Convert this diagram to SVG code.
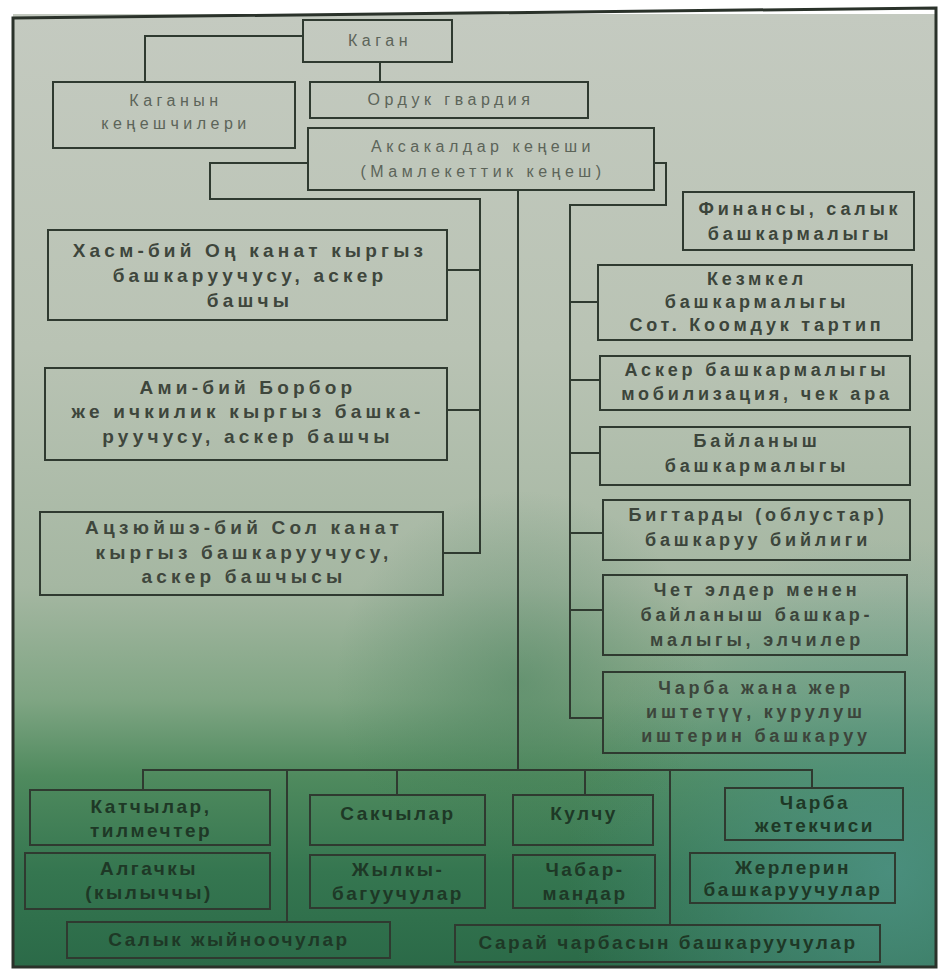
<svg xmlns="http://www.w3.org/2000/svg" width="948" height="970" viewBox="0 0 948 970">
<defs>
<linearGradient id="bg" x1="0" y1="0" x2="0" y2="1">
<stop offset="0" stop-color="#c4cac0"/>
<stop offset="0.35" stop-color="#b9c3b4"/>
<stop offset="0.6" stop-color="#a5b7a2"/>
<stop offset="0.72" stop-color="#7fa583"/>
<stop offset="0.8" stop-color="#4f8a5e"/>
<stop offset="0.9" stop-color="#357650"/>
<stop offset="1" stop-color="#2b6a48"/>
</linearGradient>
<radialGradient id="teal" cx="0.95" cy="0.9" r="0.35">
<stop offset="0" stop-color="#4f9488" stop-opacity="0.8"/>
<stop offset="1" stop-color="#4f9488" stop-opacity="0"/>
</radialGradient>
<radialGradient id="dark" cx="0.55" cy="0.7" r="0.2">
<stop offset="0" stop-color="#3f7a55" stop-opacity="0.45"/>
<stop offset="1" stop-color="#3f7a55" stop-opacity="0"/>
</radialGradient>
<style>
.box{fill:none;stroke:#2f3a30;stroke-width:2}
.ln{fill:none;stroke:#2f3a30;stroke-width:2}
text{font-family:"Liberation Sans","DejaVu Sans",sans-serif;text-anchor:middle}
.t{font-size:16px;fill:#5c6459;letter-spacing:4.5px}
.l{font-size:19px;font-weight:bold;fill:#3e463c;letter-spacing:4.2px}
.r{font-size:18px;font-weight:bold;fill:#3c453b;letter-spacing:3.8px}
.b{font-size:19px;font-weight:bold;fill:#1e3826;letter-spacing:2.5px}
</style>
</defs>
<rect x="0" y="0" width="948" height="970" fill="#ffffff"/>
<rect x="13" y="14" width="923" height="953" fill="url(#bg)"/>
<rect x="13" y="14" width="923" height="953" fill="url(#teal)"/>
<rect x="13" y="14" width="923" height="953" fill="url(#dark)"/>
<path d="M13 18 L936 8 L936 967 L13 967 Z" fill="none" stroke="#2a322a" stroke-width="3"/>

<g id="connectors">
<path class="ln" d="M303 36 H145 V82"/>
<path class="ln" d="M380 62 V82"/>
<path class="ln" d="M308 163 H210 V199 H480 V553 H443"/>
<path class="ln" d="M447 270 H480"/>
<path class="ln" d="M447 410 H480"/>
<path class="ln" d="M518 190 V770"/>
<path class="ln" d="M654 163 H666 V205 H570 V718 H603"/>
<path class="ln" d="M570 302 H598"/>
<path class="ln" d="M570 380 H600"/>
<path class="ln" d="M570 453 H600"/>
<path class="ln" d="M570 533 H603"/>
<path class="ln" d="M570 610 H603"/>
<path class="ln" d="M143 790 V770 H812 V788"/>
<path class="ln" d="M287 770 V921"/>
<path class="ln" d="M397 770 V795"/>
<path class="ln" d="M585 770 V795"/>
<path class="ln" d="M670 770 V925"/>
</g>

<g id="kagan"><rect class="box" x="303" y="20" width="149" height="42"/><text class="t" x="380" y="46">Каган</text></g>
<g id="kenesh"><rect class="box" x="53" y="82" width="242" height="66"/><text class="t" x="176" y="106">Каганын</text><text class="t" x="176" y="129">кеңешчилери</text></g>
<g id="guard"><rect class="box" x="310" y="82" width="278" height="36"/><text class="t" x="451" y="105">Ордук гвардия</text></g>
<g id="aksakal"><rect class="box" x="308" y="128" width="346" height="62"/><text class="t" x="483" y="152">Аксакалдар кеңеши</text><text class="t" x="483" y="177">(Мамлекеттик кеңеш)</text></g>

<g id="left1"><rect class="box" x="48" y="230" width="399" height="90"/><text class="l" x="250" y="257">Хасм-бий Оң канат кыргыз</text><text class="l" x="250" y="282">башкаруучусу, аскер</text><text class="l" x="250" y="307">башчы</text></g>
<g id="left2"><rect class="box" x="45" y="368" width="402" height="92"/><text class="l" x="248" y="394">Ами-бий Борбор</text><text class="l" x="248" y="418">же ичкилик кыргыз башка-</text><text class="l" x="248" y="443">руучусу, аскер башчы</text></g>
<g id="left3"><rect class="box" x="40" y="512" width="403" height="83"/><text class="l" x="244" y="534">Ацзюйшэ-бий Сол канат</text><text class="l" x="244" y="559">кыргыз башкаруучусу,</text><text class="l" x="244" y="583">аскер башчысы</text></g>

<g id="right1"><rect class="box" x="683" y="192" width="231" height="58"/><text class="r" x="800" y="215">Финансы, салык</text><text class="r" x="800" y="240">башкармалыгы</text></g>
<g id="right2"><rect class="box" x="598" y="265" width="314" height="75"/><text class="r" x="757" y="285">Кезмкел</text><text class="r" x="757" y="308">башкармалыгы</text><text class="r" x="757" y="331">Сот. Коомдук тартип</text></g>
<g id="right3"><rect class="box" x="600" y="356" width="310" height="54"/><text class="r" x="757" y="376">Аскер башкармалыгы</text><text class="r" x="757" y="400">мобилизация, чек ара</text></g>
<g id="right4"><rect class="box" x="600" y="427" width="310" height="58"/><text class="r" x="757" y="447">Байланыш</text><text class="r" x="757" y="472">башкармалыгы</text></g>
<g id="right5"><rect class="box" x="603" y="500" width="307" height="60"/><text class="r" x="758" y="521">Бигтарды (облустар)</text><text class="r" x="758" y="546">башкаруу бийлиги</text></g>
<g id="right6"><rect class="box" x="603" y="575" width="304" height="80"/><text class="r" x="757" y="596">Чет элдер менен</text><text class="r" x="757" y="621">байланыш башкар-</text><text class="r" x="757" y="646">малыгы, элчилер</text></g>
<g id="right7"><rect class="box" x="603" y="672" width="302" height="81"/><text class="r" x="756" y="694">Чарба жана жер</text><text class="r" x="756" y="718">иштетүү, курулуш</text><text class="r" x="756" y="742">иштерин башкаруу</text></g>

<g id="b1"><rect class="box" x="30" y="790" width="240" height="55"/><text class="b" x="151" y="813">Катчылар,</text><text class="b" x="151" y="837">тилмечтер</text></g>
<g id="b2"><rect class="box" x="25" y="853" width="245" height="56"/><text class="b" x="149" y="875">Алгачкы</text><text class="b" x="149" y="899">(кылыччы)</text></g>
<g id="b3"><rect class="box" x="310" y="795" width="175" height="50"/><text class="b" x="398" y="820">Сакчылар</text></g>
<g id="b4"><rect class="box" x="310" y="855" width="175" height="53"/><text class="b" x="398" y="876">Жылкы-</text><text class="b" x="398" y="900">багуучулар</text></g>
<g id="b5"><rect class="box" x="513" y="795" width="140" height="50"/><text class="b" x="584" y="820">Кулчу</text></g>
<g id="b6"><rect class="box" x="513" y="855" width="142" height="53"/><text class="b" x="585" y="876">Чабар-</text><text class="b" x="585" y="900">мандар</text></g>
<g id="b7"><rect class="box" x="725" y="788" width="178" height="52"/><text class="b" x="815" y="809">Чарба</text><text class="b" x="815" y="832">жетекчиси</text></g>
<g id="b8"><rect class="box" x="690" y="853" width="205" height="50"/><text class="b" x="793" y="874">Жерлерин</text><text class="b" x="793" y="896">башкаруучулар</text></g>
<g id="b9"><rect class="box" x="67" y="922" width="323" height="36"/><text class="b" x="229" y="946">Салык жыйноочулар</text></g>
<g id="b10"><rect class="box" x="455" y="925" width="425" height="37"/><text class="b" x="668" y="949">Сарай чарбасын башкаруучулар</text></g>
</svg>
